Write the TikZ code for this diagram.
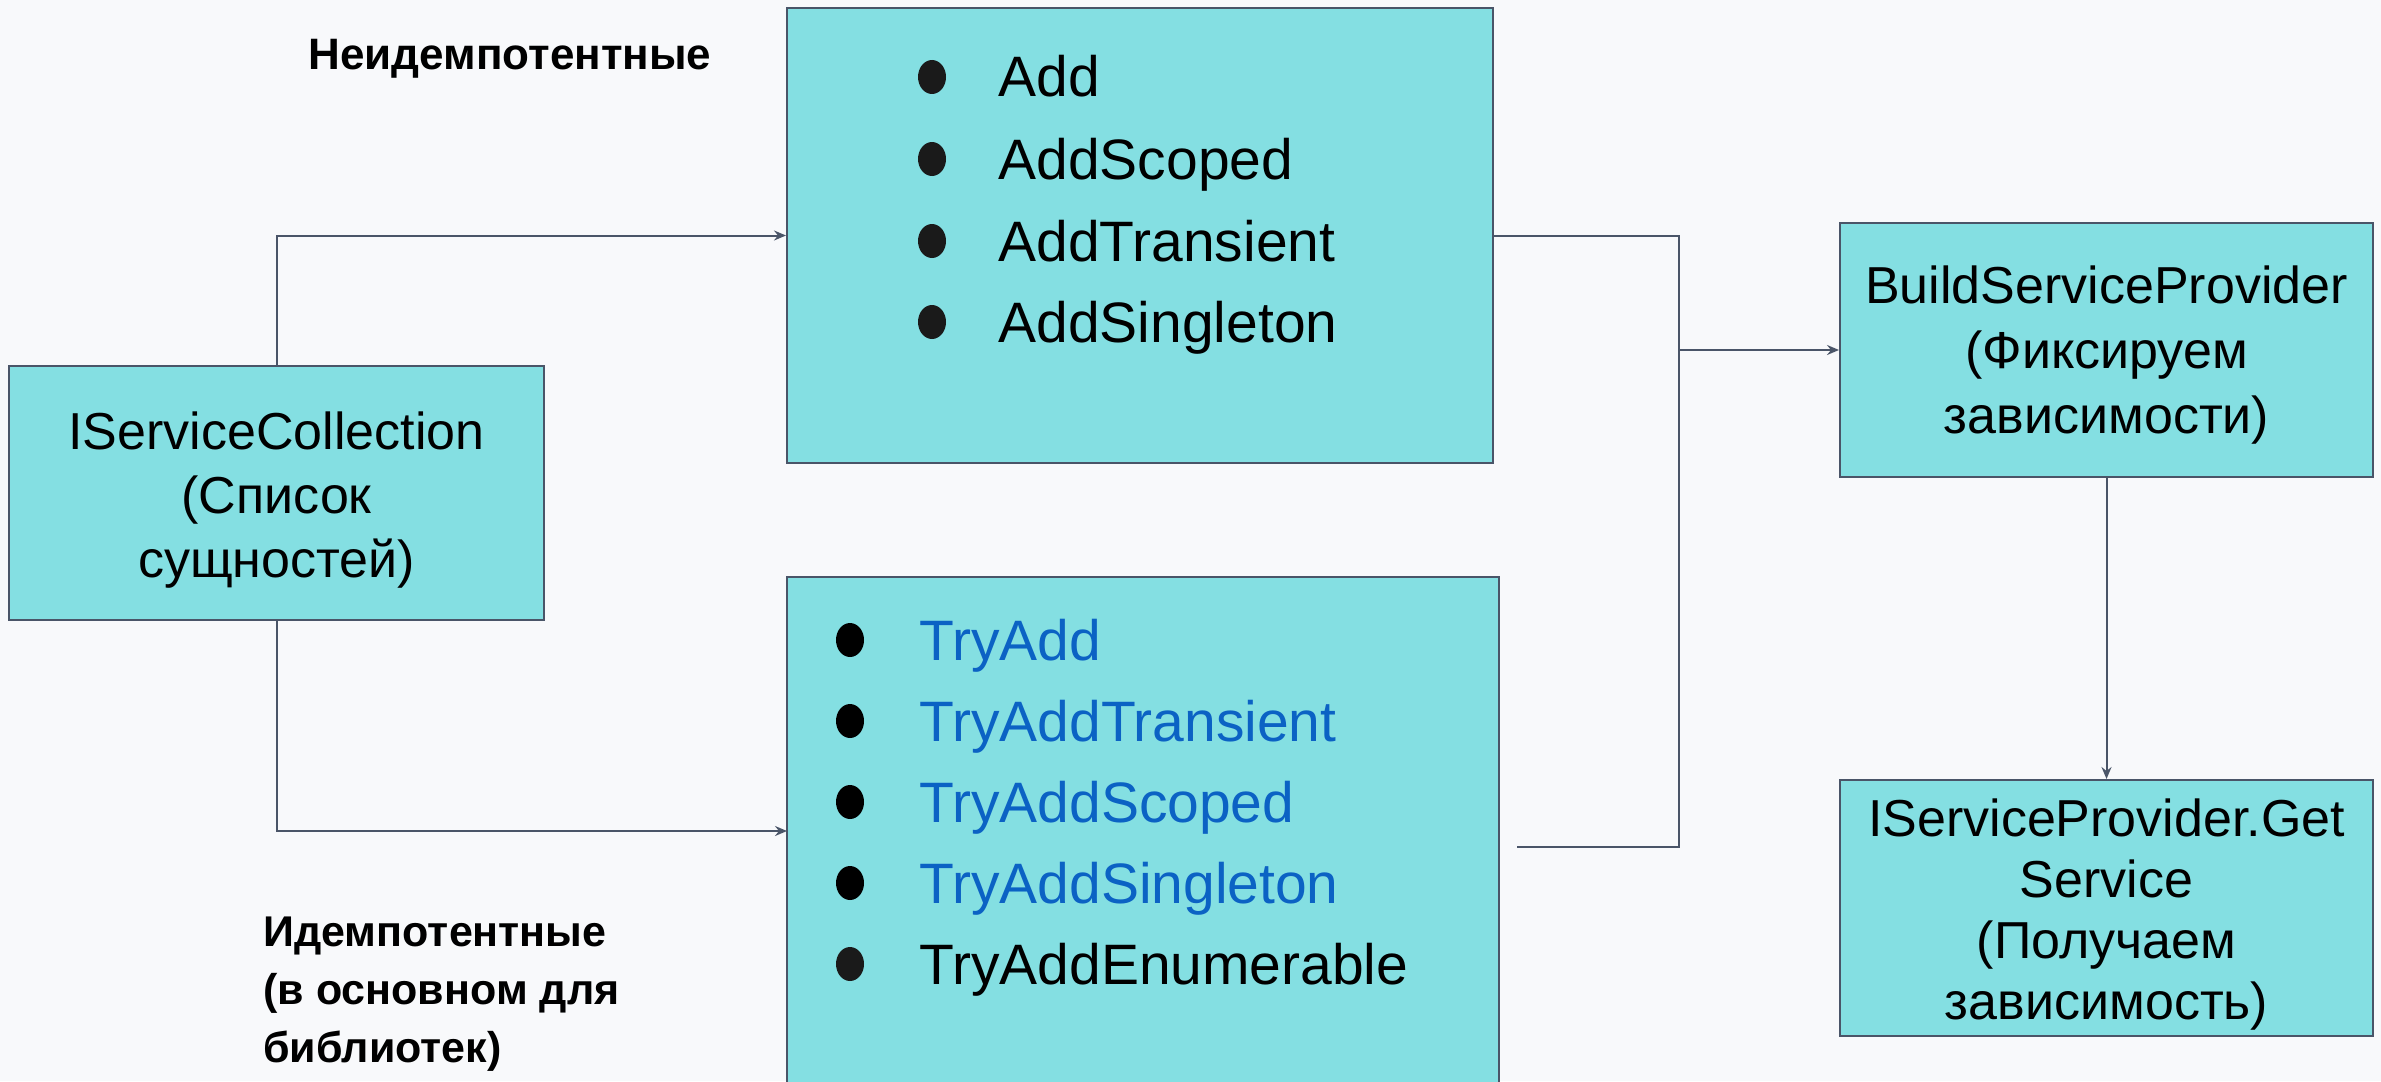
\documentclass[tikz,border=0pt]{standalone}
\usepackage{fontspec}
\setmainfont{Liberation Sans}
\usetikzlibrary{arrows.meta}
\definecolor{boxfill}{HTML}{84DFE2}
\definecolor{boxline}{HTML}{4A5568}
\definecolor{bgcol}{HTML}{F8F9FB}
\definecolor{tryblue}{HTML}{0B62C4}
\definecolor{bulgray}{HTML}{1A1A1A}
\begin{document}
\begin{tikzpicture}[x=0.5pt,y=-0.5pt,
  box/.style={draw=boxline, line width=1pt, fill=boxfill, inner sep=0pt},
  conn/.style={draw=boxline, line width=1pt},
  arr/.style={conn, -{Stealth[length=6pt,width=5pt,inset=2pt]}},
  boxtext/.style={align=center, inner sep=0pt, font=\fontsize{26}{32}\selectfont},
  listitem/.style={anchor=base west, inner sep=0pt, font=\fontsize{28.5}{34}\selectfont},
  bullet/.style={x radius=7pt, y radius=8.5pt},
  lbl/.style={anchor=base west, inner sep=0pt, align=left, font=\bfseries\fontsize{22}{29}\selectfont}]
\useasboundingbox (0,0) rectangle (2381,1081);
\clip (0,0) rectangle (2381,1081);
\fill[bgcol] (0,0) rectangle (2381,1081);

% boxes
\node[box, minimum width=267.5pt, minimum height=127pt] (L) at (276.5,493) {};
\node[boxtext] (Ltxt) at ([yshift=-3.5pt]L.center) {IServiceCollection\\(Список\\сущностей)};
\node[box, minimum width=353pt, minimum height=227.5pt] (T) at (1140,235.5) {};
\node[box, minimum width=356pt, minimum height=261.5pt] (B) at (1143,838.5) {};
\node[box, minimum width=266.5pt, minimum height=127pt] (S) at (2106.5,350) {};
\node[boxtext, font=\fontsize{26}{32.5}\selectfont] (Stxt) at ([yshift=-2.5pt]S.center)
  {BuildServiceProvider\\(Фиксируем\\зависимости)};
\node[box, minimum width=266.5pt, minimum height=128pt] (P) at (2106.5,908) {};
\node[boxtext, font=\fontsize{26}{30.5}\selectfont] (Ptxt) at ([yshift=-3.5pt]P.center)
  {IServiceProvider.Get\\Service\\(Получаем\\зависимость)};

% top list
\foreach \yy/\tt [count=\i] in {97/Add,179/AddScoped,261/AddTransient,342/AddSingleton}{
  \fill[bulgray] (932,\yy-20) ellipse [bullet];
  \node[listitem] (t\i) at (998,\yy) {\tt};
}
% bottom list
\foreach \yy/\tt [count=\i] in {660/TryAdd,741/TryAddTransient,822/TryAddScoped,903/TryAddSingleton}{
  \fill[black] (850,\yy-20) ellipse [bullet];
  \node[listitem, text=tryblue] (b\i) at (919,\yy) {\tt};
}
\fill[bulgray] (850,984-20) ellipse [bullet];
\node[listitem] (b5) at (919,984) {TryAddEnumerable};

% labels
\node[lbl] (nonidem) at (308,70) {Неидемпотентные};
\node[lbl, font=\bfseries\fontsize{21.5}{29}\selectfont] (idem) at (263,1062) {Идемпотентные\\(в основном для\\библиотек)};

% connectors
\coordinate (bin) at (787,831);
\coordinate (j1) at (1679,235.5);
\coordinate (jm) at (1679,350);
\coordinate (j2) at (1679,847);
\coordinate (fe) at (1517,847);
\draw[arr] (L.north) |- (T.west);
\draw[arr] (L.south) |- (bin);
\draw[conn] (T.east) -- (j1) -- (j2) -- (fe);
\draw[arr] (jm) -- (S.west);
\draw[arr] (S.south) -- (P.north);
\end{tikzpicture}
\end{document}
